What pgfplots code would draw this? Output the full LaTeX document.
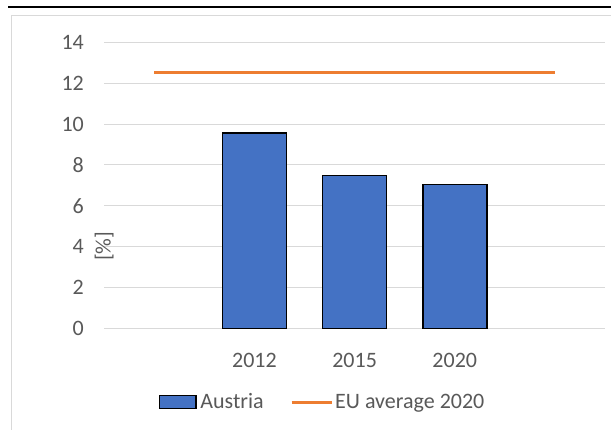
\documentclass[border=0pt]{standalone}
\usepackage{pgfplots}
\pgfplotsset{compat=1.18}
\usepackage{fontspec}
\setmainfont{Carlito}
\definecolor{barblue}{HTML}{4472C4}
\definecolor{euorange}{HTML}{ED7D31}
\definecolor{gridgray}{HTML}{D9D9D9}
\definecolor{textgray}{HTML}{595959}
\begin{document}
\begin{tikzpicture}
\clip (0,0) rectangle (611bp,430bp);
\useasboundingbox (0,0) rectangle (611bp,430bp);
\fill[white] (0,0) rectangle (611bp,430bp);
% chart frame and rule above
\draw[gridgray, line width=1bp] (11.7bp,-5bp) -- (11.7bp,414bp) -- (620bp,414bp);
\draw[black, line width=2bp] (8bp,423.3bp) -- (620bp,423.3bp);
\begin{axis}[
  at={(104.2bp,101.7bp)}, anchor=south west,
  scale only axis, width=500.8bp, height=286bp,
  xmin=-0.5, xmax=4.5, ymin=0, ymax=14,
  ytick={0,2,4,6,8,10,12,14},
  xtick={1,2,3}, xticklabels={2012,2015,2020},
  ymajorgrids, grid style={draw=gridgray, line width=1bp},
  axis line style={draw=none}, major tick length=0pt,
  font=\fontsize{22bp}{26bp}\selectfont,
  /pgf/number format/assume math mode=true,
  yticklabel style={anchor=east, inner sep=0pt, xshift=-20.2bp, text=textgray},
  xticklabel style={anchor=north, inner sep=0pt, yshift=-24.7bp, text=textgray},
  ylabel={[\%]},
  ylabel style={at={(rel axis cs:0,0.5)}, anchor=center, xshift=-61bp, inner sep=0pt, text=textgray},
  legend columns=2,
  legend style={at={(0.434,-0.2577)}, anchor=center, draw=none, fill=none,
    inner sep=0pt, outer sep=0pt,
    nodes={inner sep=0pt, text=textgray},
    /tikz/every even column/.append style={column sep=26.3bp}},
]
\addplot[ybar, bar width=64bp, fill=barblue, draw=black, line width=1.5bp,
  legend image code/.code={\draw[fill=barblue, draw=black, line width=1.5bp] (0.75bp,-6.5bp) rectangle (37bp,6.5bp); \path[draw=none, fill=none] (0,0) -- (41.7bp,0);}]
  coordinates {(1,9.57) (2,7.47) (3,7.03)};
\addlegendentry{Austria}
\addplot[euorange, line width=3bp,
  legend image code/.code={\draw[euorange, line width=3bp] (0bp,0) -- (40bp,0); \path[draw=none] (0,0) -- (43.7bp,0);}]
  coordinates {(0,12.5) (4,12.5)};
\addlegendentry{EU average 2020}
\end{axis}
\end{tikzpicture}
\end{document}
